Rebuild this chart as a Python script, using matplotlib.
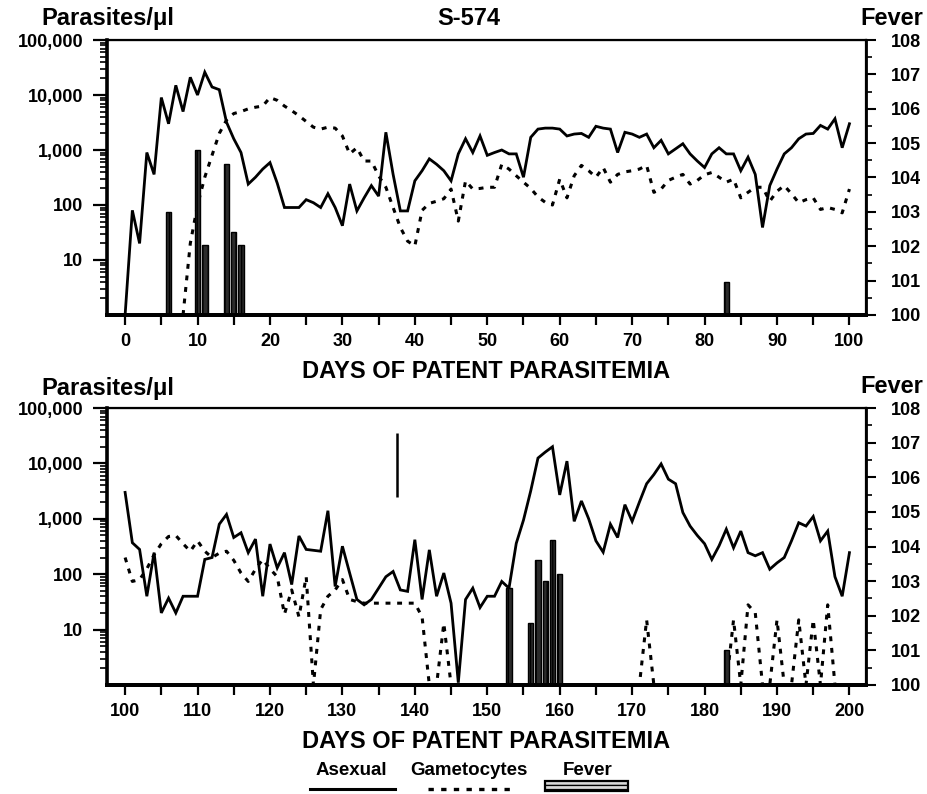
import matplotlib
matplotlib.use("Agg")
import matplotlib.pyplot as plt
from matplotlib.ticker import MultipleLocator, FixedLocator, NullFormatter, LogLocator
from matplotlib.lines import Line2D
from matplotlib.patches import Rectangle

plt.rcParams['font.family'] = ['Liberation Sans', 'DejaVu Sans']
plt.rcParams['font.weight'] = 'bold'
plt.rcParams['axes.labelweight'] = 'bold'

# ---- data (parasites/ul, fever in F) ----
days_top = list(range(0, 101))
asexual_top = [1, 80, 20, 900, 360, 9000, 3000, 15000, 5000, 21000,
               10000, 26000, 14000, 12500, 3200, 1600, 900, 240, 320, 450,
               590, 250, 90, 90, 90, 125, 110, 90, 160, 90,
               42, 240, 78, 135, 225, 145, 2100, 360, 78, 78,
               275, 420, 690, 550, 420, 275, 850, 1600, 900, 1800,
               800, 900, 1000, 850, 850, 320, 1700, 2400, 2500, 2500,
               2400, 1800, 1950, 2000, 1700, 2700, 2500, 2400, 900, 2100,
               1950, 1700, 1950, 1100, 1500, 850, 1050, 1300, 850, 630,
               480, 850, 1100, 850, 850, 420, 740, 360, 39, 225,
               450, 850, 1100, 1600, 1950, 2000, 2800, 2400, 3700, 1100,
               3000]

game_days_top = list(range(8, 101))
game_top = [1, 20, 100, 320, 800, 2000, 3500, 4600, 5000, 5600,
            6000, 6300, 9000, 8000, 6300, 5200, 4200, 3300, 2600, 2400,
            2600, 2500, 1800, 850, 1100, 630, 630, 340, 210, 90,
            39, 22, 18, 80, 107, 117, 130, 195, 51, 275,
            195, 200, 210, 210, 550, 450, 340, 260, 200, 140,
            112, 100, 295, 135, 340, 525, 420, 320, 480, 260,
            360, 400, 420, 450, 525, 170, 195, 280, 320, 360,
            240, 280, 355, 390, 320, 260, 295, 135, 170, 210,
            210, 117, 178, 225, 160, 110, 125, 135, 83, 90,
            83, 72, 195]

fever_days_top = [6, 10, 11, 14, 15, 16, 83]
fever_top = [103.0, 104.8, 102.05, 104.4, 102.4, 102.05, 100.95]

days_bot = list(range(100, 201))
asexual_bot = [3000, 370, 280, 40, 245, 20, 37, 20, 40, 40,
               40, 185, 200, 800, 1200, 460, 560, 245, 430, 40,
               350, 130, 245, 65, 490, 280, 270, 260, 1400, 60,
               320, 105, 35, 28, 35, 56, 90, 112, 52, 49,
               420, 35, 275, 40, 105, 30, 1.1, 35, 56, 25,
               40, 40, 74, 56, 360, 950, 3200, 12500, 16000, 20000,
               2700, 11000, 900, 2100, 1000, 400, 250, 800, 460, 1800,
               900, 2000, 4300, 6300, 9800, 5200, 4300, 1300, 740, 500,
               355, 185, 325, 650, 300, 600, 245, 215, 245, 123,
               160, 200, 400, 850, 740, 1100, 400, 600, 90, 40,
               245]

game_days_bot = list(range(100, 199))
game_bot = [200, 74, 80, 125, 225, 355, 480, 500, 355, 260,
            400, 260, 200, 240, 260, 178, 105, 74, 123, 185,
            125, 90, 19, 52, 17, 90, 1, 23, 40, 52,
            80, 35, 32, 30, 30, 30, 30, 30, 30, 30,
            30, 17, 1, 1, 13, 1, 1, 1, 1, 1,
            1, 1, 1, 1, 1, 1, 1, 1, 1, 1,
            1, 1, 1, 1, 1, 1, 1, 1, 1, 1,
            1, 1, 15, 1, 1, 1, 1, 1, 1, 1,
            1, 1, 1, 1, 15, 1, 28, 20, 1, 1,
            15, 1, 1, 15, 1, 15, 1, 28, 1]

fever_days_bot = [153, 156, 157, 158, 159, 160, 183]
fever_bot = [102.8, 101.8, 103.6, 103.0, 104.2, 103.2, 101.0]

# stray vertical mark in the lower panel
mark_day = 137.5
mark_range = [2500, 35000]

decade_ticks = [10, 100, 1000, 10000, 100000]
decade_labels = ['10', '100', '1,000', '10,000', '100,000']
fever_ticks = list(range(100, 109))

TICK_FS = 13
LABEL_FS = 17


def setup_panel(ax, xlo, xhi):
    ax.set_yscale('log')
    ax.set_ylim(1, 100000)
    ax.set_xlim(xlo, xhi)
    ax.yaxis.set_major_locator(FixedLocator(decade_ticks))
    ax.set_yticklabels(decade_labels)
    ax.yaxis.set_minor_locator(LogLocator(base=10, subs=range(2, 10)))
    ax.yaxis.set_minor_formatter(NullFormatter())
    ax.xaxis.set_major_locator(MultipleLocator(10))
    ax.xaxis.set_minor_locator(MultipleLocator(5))
    ax.tick_params(axis='y', which='major', direction='out', length=10, width=1.6,
                   labelsize=TICK_FS, pad=7)
    ax.tick_params(axis='y', which='minor', direction='out', length=5, width=1.2)
    ax.tick_params(axis='x', which='both', direction='out', length=7, width=1.6,
                   labelsize=TICK_FS, pad=6)
    for s in ax.spines.values():
        s.set_linewidth(1.6)
    ax.spines['left'].set_linewidth(2.6)
    ax.spines['bottom'].set_linewidth(2.8)

    tw = ax.twinx()
    tw.set_ylim(100, 108)
    tw.yaxis.set_major_locator(FixedLocator(fever_ticks))
    tw.yaxis.set_minor_locator(MultipleLocator(0.5))
    tw.tick_params(axis='y', which='major', direction='out', length=7, width=1.5,
                   labelsize=TICK_FS, pad=11)
    tw.tick_params(axis='y', which='minor', direction='out', length=4, width=1.2)
    tw.spines['right'].set_linewidth(2.0)
    tw.spines['bottom'].set_linewidth(2.8)
    return tw


def draw_fever(tw, days, temps):
    tw.bar(days, [t - 100 for t in temps], bottom=100, width=0.75,
           color='#2b2b2b', edgecolor='black', linewidth=1.0, hatch='|||')


fig = plt.figure(figsize=(9.28, 7.94), dpi=100)
ax1 = fig.add_axes([0.1153, 0.6033, 0.818, 0.3463])
ax2 = fig.add_axes([0.1153, 0.1373, 0.818, 0.3488])

tw1 = setup_panel(ax1, -2.5, 102.3)
tw2 = setup_panel(ax2, 97.5, 202.3)

line_kw = dict(color='black', linewidth=2.0, solid_joinstyle='miter')
dot_kw = dict(color='black', linewidth=2.2, linestyle=(0, (1.6, 2.2)))

ax1.plot(days_top, asexual_top, **line_kw)
ax1.plot(game_days_top, game_top, **dot_kw)
draw_fever(tw1, fever_days_top, fever_top)

ax2.plot(days_bot, asexual_bot, **line_kw)
ax2.plot(game_days_bot, game_bot, **dot_kw)
ax2.vlines(mark_day, mark_range[0], mark_range[1], color='black', linewidth=1.8)
draw_fever(tw2, fever_days_bot, fever_bot)

ax1.set_xlabel('DAYS OF PATENT PARASITEMIA', fontsize=17, fontweight='bold', labelpad=7)
ax2.set_xlabel('DAYS OF PATENT PARASITEMIA', fontsize=17, fontweight='bold', labelpad=7)

fig.text(0.045, 0.977, 'Parasites/\u03bcl', fontsize=LABEL_FS, ha='left', va='center')
fig.text(0.505, 0.977, 'S-574', fontsize=LABEL_FS, ha='center', va='center')
fig.text(0.995, 0.977, 'Fever', fontsize=LABEL_FS, ha='right', va='center')
fig.text(0.045, 0.511, 'Parasites/\u03bcl', fontsize=LABEL_FS, ha='left', va='center')
fig.text(0.995, 0.513, 'Fever', fontsize=LABEL_FS, ha='right', va='center')

# legend drawn underneath the lower panel
leg_y_text = 0.030
leg_y_line = 0.006
fig.text(0.379, leg_y_text, 'Asexual', fontsize=13.5, ha='center', va='center')
fig.add_artist(Line2D([0.334, 0.426], [leg_y_line, leg_y_line], color='black',
                      linewidth=2.2, transform=fig.transFigure))
fig.text(0.505, leg_y_text, 'Gametocytes', fontsize=13.5, ha='center', va='center')
fig.add_artist(Line2D([0.461, 0.550], [leg_y_line, leg_y_line], color='black',
                      linewidth=2.4, linestyle=(0, (1.6, 2.2)), transform=fig.transFigure))
fig.text(0.633, leg_y_text, 'Fever', fontsize=13.5, ha='center', va='center')
fig.add_artist(Rectangle((0.587, 0.004), 0.090, 0.012, facecolor='#d8d8d8',
                         edgecolor='black', linewidth=1.6, hatch='----',
                         transform=fig.transFigure))

fig.savefig('out.png', dpi=100)
